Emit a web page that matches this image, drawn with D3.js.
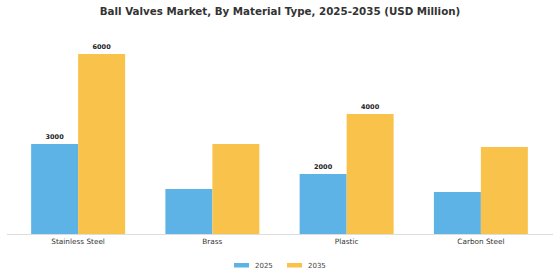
<!DOCTYPE html>
<html><head><meta charset="utf-8">
<script src="https://cdn.jsdelivr.net/npm/d3@7"></script>
<style>body{margin:0;background:#fff}svg{display:block}</style>
</head><body>
<script>
const categories = ["Stainless Steel", "Brass", "Plastic", "Carbon Steel"];
const seriesNames = ["2025", "2035"];
const values2025 = [3000, 1500, 2000, 1400];
const values2035 = [6000, 3000, 4000, 2900];
const labels2025 = ["3000", "", "2000", ""];
const labels2035 = ["6000", "", "4000", ""];
const colors = ["#5DB3E6", "#F9C34B"];

const W = 560, H = 280;
const svg = d3.select("body").append("svg").attr("width", W).attr("height", H);

const baseY = 234;
const y = d3.scaleLinear().domain([0, 6000]).range([baseY, 54]);
const x = d3.scaleBand().domain(categories).range([11, 548]).paddingInner(0.3).paddingOuter(0.15);
const xs = d3.scaleBand().domain(seriesNames).range([0, x.bandwidth()]);

svg.append("text").attr("x", 280).attr("y", 15).attr("text-anchor", "middle")
  .attr("font-family", "DejaVu Sans").attr("font-weight", "bold").attr("font-size", 10.3)
  .attr("fill", "#333").text("Ball Valves Market, By Material Type, 2025-2035 (USD Million)");

const series = [values2025, values2035];
const labs = [labels2025, labels2035];
series.forEach((vals, si) => {
  svg.append("g").selectAll("rect").data(categories).join("rect")
    .attr("x", c => x(c) + xs(seriesNames[si]))
    .attr("y", (c, i) => y(vals[i]))
    .attr("width", xs.bandwidth())
    .attr("height", (c, i) => baseY - y(vals[i]))
    .attr("fill", colors[si]);
  svg.append("g").selectAll("text").data(categories).join("text")
    .attr("x", c => x(c) + xs(seriesNames[si]) + xs.bandwidth() / 2)
    .attr("y", (c, i) => y(vals[i]) - 5)
    .attr("text-anchor", "middle")
    .attr("font-family", "DejaVu Sans").attr("font-weight", "bold").attr("font-size", 6.5)
    .attr("fill", "#222")
    .text((c, i) => labs[si][i]);
});

const axis = svg.append("g").attr("transform", `translate(0,${baseY})`)
  .call(d3.axisBottom(x).tickSize(0).tickPadding(5));
axis.select(".domain").attr("stroke", "#ddd").attr("d", "M7,0.5H553");
axis.selectAll("text").attr("font-family", "DejaVu Sans").attr("font-size", 7.3).attr("fill", "#333");

const leg = svg.append("g");
const legX = [234, 287];
seriesNames.forEach((s, i) => {
  leg.append("rect").attr("x", legX[i]).attr("y", 263).attr("width", 15).attr("height", 4.5).attr("fill", colors[i]);
  leg.append("text").attr("x", legX[i] + 21).attr("y", 268).attr("font-family", "DejaVu Sans")
    .attr("font-size", 7).attr("fill", "#444").text(s);
});
</script>
</body></html>
